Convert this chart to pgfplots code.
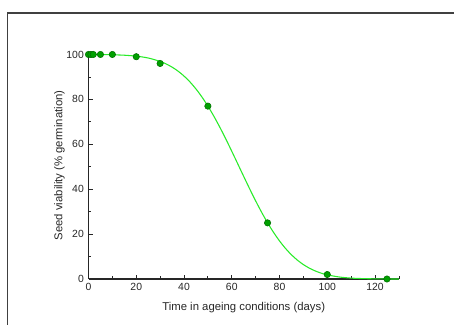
\documentclass[border=0pt]{standalone}
\usepackage{pgfplots}
\pgfplotsset{compat=1.18}
\usepackage{fontspec}
\setmainfont{Liberation Sans}
\definecolor{curvegreen}{RGB}{40,235,40}
\definecolor{markfill}{RGB}{0,160,0}
\definecolor{markdraw}{RGB}{0,110,0}
\begin{document}
\begin{tikzpicture}
\useasboundingbox (0pt,0pt) rectangle (340.5pt,243.75pt);
\draw[line width=1.4pt, black!75] (5.6pt,-20pt) -- (5.6pt,234pt) -- (360pt,234pt);
\begin{axis}[
  at={(66.375pt,34.5pt)}, anchor=south west,
  scale only axis,
  width=232.8pt, height=170.5pt,
  xmin=0, xmax=130, ymin=0, ymax=101.25,
  axis x line*=bottom, axis y line*=left,
  axis line style={-, line width=0.8pt, black!85},
  xtick={0,20,...,120}, minor xtick={10,30,...,130},
  ytick={0,20,...,100}, minor ytick={10,30,...,90},
  tick align=inside,
  major tick length=3pt, minor tick length=2pt,
  tick style={black!85, line width=0.6pt},
  tick label style={font=\fontsize{7.8}{10}\selectfont, text=black!85},
  /pgf/number format/assume math mode=true,
  xlabel={Time in ageing conditions (days)},
  ylabel={Seed viability (\% germination)},
  label style={font=\fontsize{8.5}{11}\selectfont, text=black!85},
  xlabel style={yshift=-1.5pt},
  ylabel style={yshift=-5.5pt},
  clip=false,
]
\addplot[curvegreen, line width=0.8pt, smooth, no marks] coordinates {
(0,99.98) (5,99.95) (10,99.86) (15,99.67) (20,99.25) (25,98.43) (30,96.92)
(32.5,95.80) (35,94.37) (37.5,92.58) (40,90.39) (42.5,87.76) (45,84.65)
(47.5,81.07) (50,77.01) (52.5,72.50) (55,67.60) (57.5,62.38) (60,56.91)
(62.5,51.31) (65,45.69) (67.5,40.15) (70,34.80) (72.5,29.73) (75,25.04)
(77.5,20.77) (80,16.96) (82.5,13.63) (85,10.78) (87.5,8.39) (90,6.42)
(92.5,4.83) (95,3.57) (97.5,2.59) (100,1.85) (105,0.89) (110,0.40)
(115,0.17) (120,0.07) (125,0.02) (130,0.01)
};
\addplot[only marks, mark=*, mark size=2.4pt, mark options={fill=markfill, draw=markdraw, line width=0.4pt}] coordinates {
(0,100) (1,100) (2,100) (5,100) (10,100) (20,99) (30,96) (50,77) (75,25) (100,2) (125,0)
};
\end{axis}
\end{tikzpicture}
\end{document}
